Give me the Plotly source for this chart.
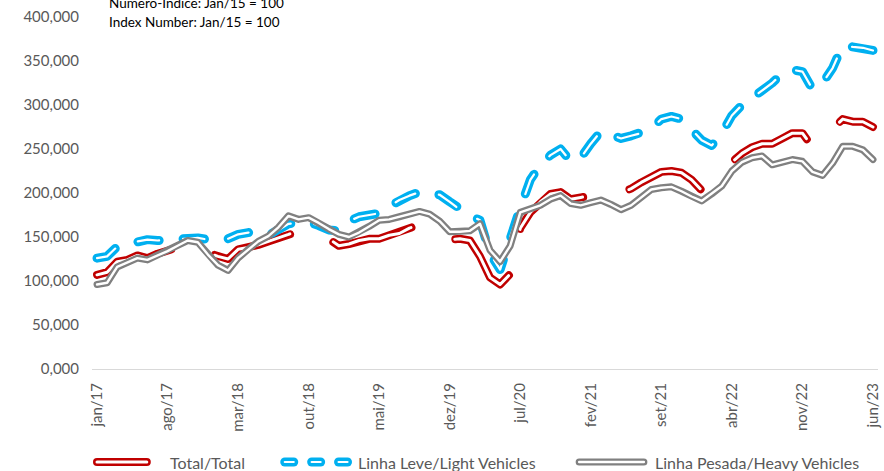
import plotly.graph_objects as go

# ---------------- data ----------------
months_pt = ['jan', 'fev', 'mar', 'abr', 'mai', 'jun', 'jul', 'ago', 'set', 'out', 'nov', 'dez']
categories = [f"{m}/{y}" for y in range(17, 24) for m in months_pt][:78]   # jan/17 .. jun/23
tick_labels = categories[::7]

total = [107, 110, 122, 124, 129, 126, 131, 134, 138, 143, 141, 132,
         128, 125, 136, 138, 141, 145, 149, 153, 158, 160, 155, 148,
         140, 142, 146, 148, 148, 152, 154, 160, 164, 160, 152, 147,
         148, 146, 128, 104, 96, 108, 160, 178, 190, 199, 201, 193,
         195, 197, 198, 196, 200, 205, 212, 218, 224, 225, 223, 215,
         203, 208, 222, 235, 245, 252, 256, 256, 262, 268, 268, 252,
         258, 273, 284, 281, 281, 275]

light = [126, 128, 139, 142, 145, 147, 146, 147, 148, 148, 149, 147,
         146, 148, 153, 155, 155, 152, 158, 165, 166, 167, 163, 158,
         157, 168, 173, 175, 177, 185, 192, 197, 201, 200, 198, 190,
         181, 175, 169, 131, 113, 150, 183, 215, 232, 243, 250, 236,
         240, 256, 270, 266, 262, 265, 268, 273, 284, 287, 284, 272,
         260, 254, 268, 288, 300, 308, 316, 325, 336, 340, 338, 318,
         325, 342, 368, 366, 365, 362]

heavy = [96, 98, 116, 121, 126, 124, 129, 134, 140, 146, 144, 130,
         118, 112, 126, 136, 145, 151, 161, 174, 170, 172, 166, 159,
         153, 150, 155, 162, 169, 170, 173, 176, 179, 176, 168, 156,
         156, 157, 165, 135, 122, 140, 178, 182, 186, 193, 197, 188,
         186, 189, 192, 187, 181, 186, 195, 204, 206, 207, 202, 196,
         191, 199, 208, 225, 235, 240, 242, 232, 235, 238, 236, 224,
         220, 234, 253, 253, 249, 238]

series_names = ['Total/Total', 'Linha Leve/Light Vehicles', 'Linha Pesada/Heavy Vehicles']
title_lines = ['Numero-Indice: Jan/15 = 100', 'Index Number: Jan/15 = 100']

# ---------------- styling ----------------
W, H = 884, 471
ML, MR, MT, MB = 92, 3, 17, 102
PW, PH = W - ML - MR, H - MT - MB

RED, BLUE, GRAY = '#C00000', '#00B0F0', '#808080'
TXT = '#595959'
FONT = 'Lato'


def px_x(x):
    return (x - ML) / PW


def px_y(y):
    return (H - MB - y) / PH


fig = go.Figure()

styles = [
    (total, RED, 8, 3, '82px,48px'),
    (light, BLUE, 9, 2.2, '21.5px,24px'),
    (heavy, GRAY, 7, 2.4, 'solid'),
]
for (vals, col, wo, wi, dash), name in zip(styles, series_names):
    fig.add_trace(go.Scatter(x=categories, y=vals, mode='lines', name=name,
                             line=dict(color=col, width=wo, dash=dash),
                             showlegend=False, hoverinfo='skip'))
    fig.add_trace(go.Scatter(x=categories, y=vals, mode='lines', name=name + ' ',
                             line=dict(color='white', width=wi, dash=dash),
                             showlegend=False, hoverinfo='skip'))

# ---------------- manual legend ----------------
LY = 462
shapes = []


def seg(x0, x1, col, wo, wi):
    shapes.append(dict(type='line', xref='paper', yref='paper',
                       x0=px_x(x0), x1=px_x(x1), y0=px_y(LY), y1=px_y(LY),
                       line=dict(color=col, width=wo)))
    shapes.append(dict(type='line', xref='paper', yref='paper',
                       x0=px_x(x0), x1=px_x(x1), y0=px_y(LY), y1=px_y(LY),
                       line=dict(color='white', width=wi)))


seg(97, 147, RED, 8, 3)
for a in (281, 308, 335):
    seg(a + 4.5, a + 13.5, BLUE, 9, 2.2)
seg(581, 646, GRAY, 7, 2.4)

annotations = []
for name, lx in zip(series_names, (168, 357, 655)):
    annotations.append(dict(text=name, xref='paper', yref='paper',
                            x=px_x(lx), y=px_y(LY), xanchor='left', yanchor='middle',
                            showarrow=False, font=dict(family=FONT, size=16, color=TXT)))

for line, ty in zip(title_lines, (3, 22)):
    annotations.append(dict(text=line, xref='paper', yref='paper',
                            x=px_x(107), y=px_y(ty), xanchor='left', yanchor='middle',
                            showarrow=False, font=dict(family=FONT, size=13.5, color='black')))

fig.update_layout(
    width=W, height=H, autosize=False,
    margin=dict(l=ML, r=MR, t=MT, b=MB, pad=0),
    paper_bgcolor='white', plot_bgcolor='white',
    separators=',.',
    showlegend=False,
    shapes=shapes, annotations=annotations,
    xaxis=dict(type='category', range=[-0.5, 77.5], tickmode='array', tickvals=tick_labels,
               tickangle=-90, showgrid=False, zeroline=False, showline=True,
               linecolor='#D9D9D9', linewidth=1, ticks='', ticklabelstandoff=7,
               tickfont=dict(family=FONT, size=15, color=TXT)),
    yaxis=dict(range=[0, 400], tickmode='array', tickvals=list(range(0, 401, 50)),
               tickformat='.3f', showgrid=False, zeroline=False, showline=False,
               ticks='', ticklabelstandoff=12,
               tickfont=dict(family=FONT, size=15, color=TXT)),
)

post = """
document.body.style.margin = '0';
document.body.style.padding = '0';
document.body.style.overflow = 'hidden';
var gd = document.getElementById('{plot_id}');
function rc(){
  gd.querySelectorAll('path.js-line, .shapelayer path').forEach(function(p){
    p.style.strokeLinecap = 'round'; p.style.strokeLinejoin = 'round';
  });
}
rc(); setTimeout(rc, 30); setTimeout(rc, 200);
if (gd.on) { gd.on('plotly_afterplot', rc); }
"""

fig.write_html("out.html", post_script=post, config={'displayModeBar': False})
